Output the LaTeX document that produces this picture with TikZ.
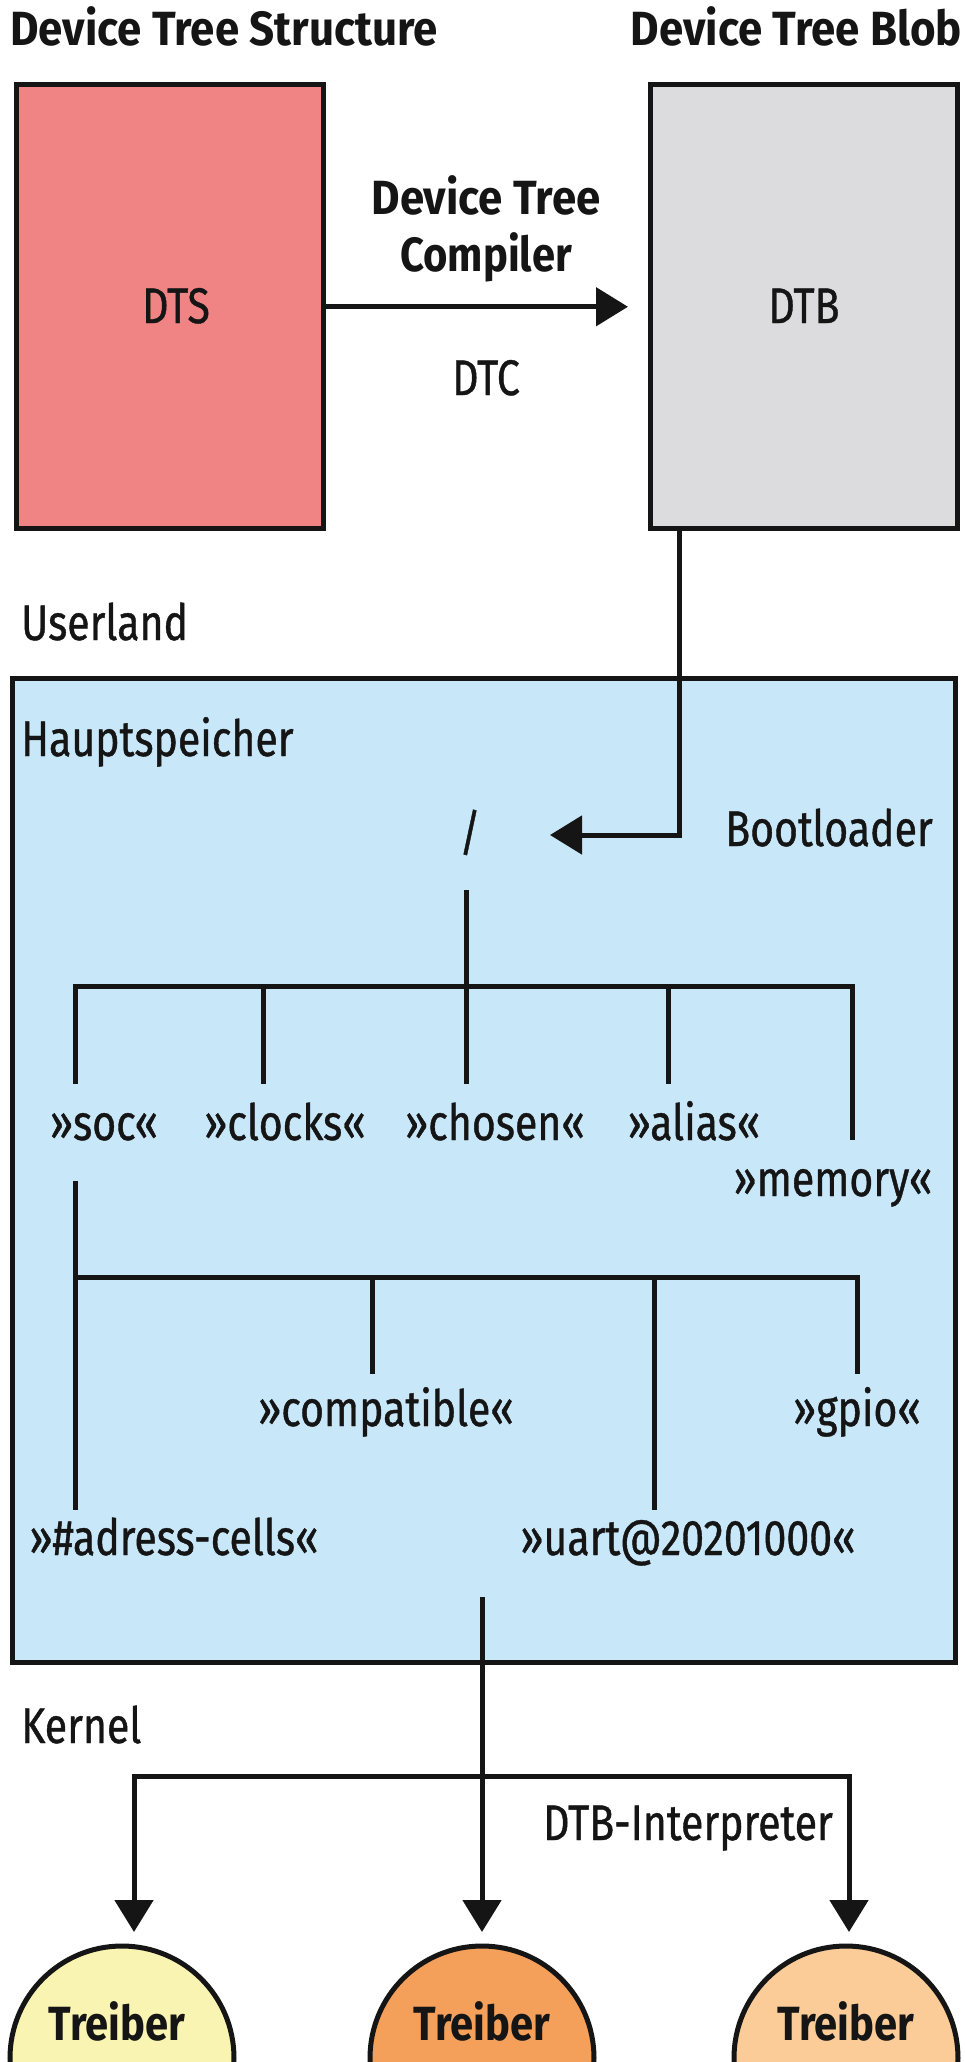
\documentclass[tikz,border=0pt]{standalone}
\usepackage{graphicx}
\usepackage{fontspec}
\setmainfont{Fira Sans}[
  UprightFeatures={FakeStretch=0.82, FakeBold=0.8},
  BoldFeatures={FakeStretch=0.87}]
\usetikzlibrary{arrows.meta}

\definecolor{ink}{HTML}{151515}
\definecolor{dtsfill}{HTML}{F08484}
\definecolor{dtbfill}{HTML}{DCDCDE}
\definecolor{memfill}{HTML}{C8E8FA}
\definecolor{drvA}{HTML}{F9F4B2}
\definecolor{drvB}{HTML}{F5A05A}
\definecolor{drvC}{HTML}{FBCB98}

% slightly wider setting for the headings
\newcommand{\widehead}[1]{\scalebox{1.05}[1]{#1}}

\tikzset{
  lbl/.style={font=\fontsize{50}{58}\selectfont, text=ink, inner sep=0pt, anchor=base},
  head/.style={lbl, font=\fontsize{48}{56}\selectfont\bfseries},
  box/.style={draw=ink, line width=5pt, rectangle, inner sep=0pt,
              font=\fontsize{50}{58}\selectfont, text=ink},
  drv/.style={draw=ink, line width=5pt, circle, minimum size=224pt, inner sep=0pt},
  conn/.style={draw=ink, line width=5pt},
  tree/.style={draw=ink, line width=5pt},
  tip/.style={-{Triangle[length=32pt,width=38pt]}},
  twotips/.style={{Triangle[length=32pt,width=38pt]}-{Triangle[length=32pt,width=38pt]}},
}

\begin{document}
\begin{tikzpicture}[x=1pt,y=-1pt]
\useasboundingbox (0,0) rectangle (965,2062);

% --- main memory area (drawn first, lines go on top)
\node[box, fill=memfill, minimum width=943pt, minimum height=984pt] (mem) at (483.5,1170.5) {};

% --- source and blob
\node[head, anchor=base west] (hdts) at (10,45) {\widehead{Device Tree Structure}};
\node[head, anchor=base east] (hdtb) at (962,45) {\widehead{Device Tree Blob}};
\node[box, fill=dtsfill, minimum width=307pt, minimum height=444pt] (dts) at (170,306.75) {};
\node[box, fill=dtbfill, minimum width=307pt, minimum height=444pt] (dtb) at (804,306.75) {};
\node[lbl] (dtslbl) at (176,323) {DTS};
\node[lbl] (dtblbl) at (804,323) {DTB};

\node[head] (dtc1) at (486,214) {\widehead{Device Tree}};
\node[head] (dtc2) at (486,271) {Compiler};
\node[lbl] (dtc3) at (486,395) {DTC};
\draw[conn, tip, shorten >=20pt] (dts.east) -- (dtb.west);

% --- section labels
\node[lbl, anchor=base west] (userland) at (21,640) {Userland};
\node[lbl, anchor=base west] (haupt) at (21,756) {Hauptspeicher};
\node[lbl, anchor=base east] (boot) at (933,846) {Bootloader};
\node[lbl, anchor=base west] (kernel) at (21,1743) {Kernel};
\node[lbl] (interp) at (688,1840) {DTB-Interpreter};

% --- bootloader loads the blob into memory
\node[lbl] (root) at (470,850) {/};
\coordinate (bend) at (679,835);
\coordinate (rootin) at (550,835);
\draw[conn, tip] (bend |- dtb.south) -- (bend) -- (rootin);

% --- first tree level
\node[lbl] (soc) at (104,1140) {»soc«};
\node[lbl] (clocks) at (285,1140) {»clocks«};
\node[lbl] (chosen) at (495,1140) {»chosen«};
\node[lbl] (alias) at (694,1140) {»alias«};
\node[lbl] (memory) at (833,1196) {»memory«};

\coordinate (rootfoot) at (466,890);
\coordinate (busA) at (466,986);
\coordinate (socA) at (75,1084);
\coordinate (clkA) at (263,1084);
\coordinate (choA) at (466,1084);
\coordinate (aliA) at (668,1084);
\coordinate (memA) at (852,1140);
\draw[tree] (rootfoot) -- (busA);
\draw[tree] (socA) -- (socA |- busA) -- (memA |- busA) -- (memA);
\draw[tree] (clkA |- busA) -- (clkA);
\draw[tree] (choA |- busA) -- (choA);
\draw[tree] (aliA |- busA) -- (aliA);

% --- second tree level below soc
\node[lbl] (compat) at (386,1426) {»compatible«};
\node[lbl] (gpio) at (857,1426) {»gpio«};
\node[lbl] (cells) at (174,1555) {»\#adress-cells«};
\node[lbl] (uart) at (688,1555) {»uart@20201000«};

\coordinate (socB) at (75,1181);
\coordinate (cellsB) at (75,1510);
\coordinate (busB) at (75,1277);
\coordinate (compB) at (372,1374);
\coordinate (uartB) at (654,1510);
\coordinate (gpioB) at (857,1374);
\draw[tree] (socB) -- (cellsB);
\draw[tree] (busB) -- (gpioB |- busB) -- (gpioB);
\draw[tree] (compB |- busB) -- (compB);
\draw[tree] (uartB |- busB) -- (uartB);

% --- drivers
\node[drv, fill=drvA] (d1) at (122,2058) {};
\node[drv, fill=drvB] (d2) at (482,2058) {};
\node[drv, fill=drvC] (d3) at (846,2058) {};
\node[head] (t1) at (117,2040) {Treiber};
\node[head] (t2) at (482,2040) {Treiber};
\node[head] (t3) at (846,2040) {Treiber};

\coordinate (uartfoot) at (482,1597);
\coordinate (tipM) at (482,1932);
\coordinate (kL) at (134,1776);
\coordinate (kR) at (849,1776);
\coordinate (tipL) at (134,1932);
\coordinate (tipR) at (849,1932);
\draw[conn, tip] (uartfoot) -- (tipM);
\draw[conn, twotips] (tipL) -- (kL) -- (kR) -- (tipR);
\end{tikzpicture}
\end{document}
